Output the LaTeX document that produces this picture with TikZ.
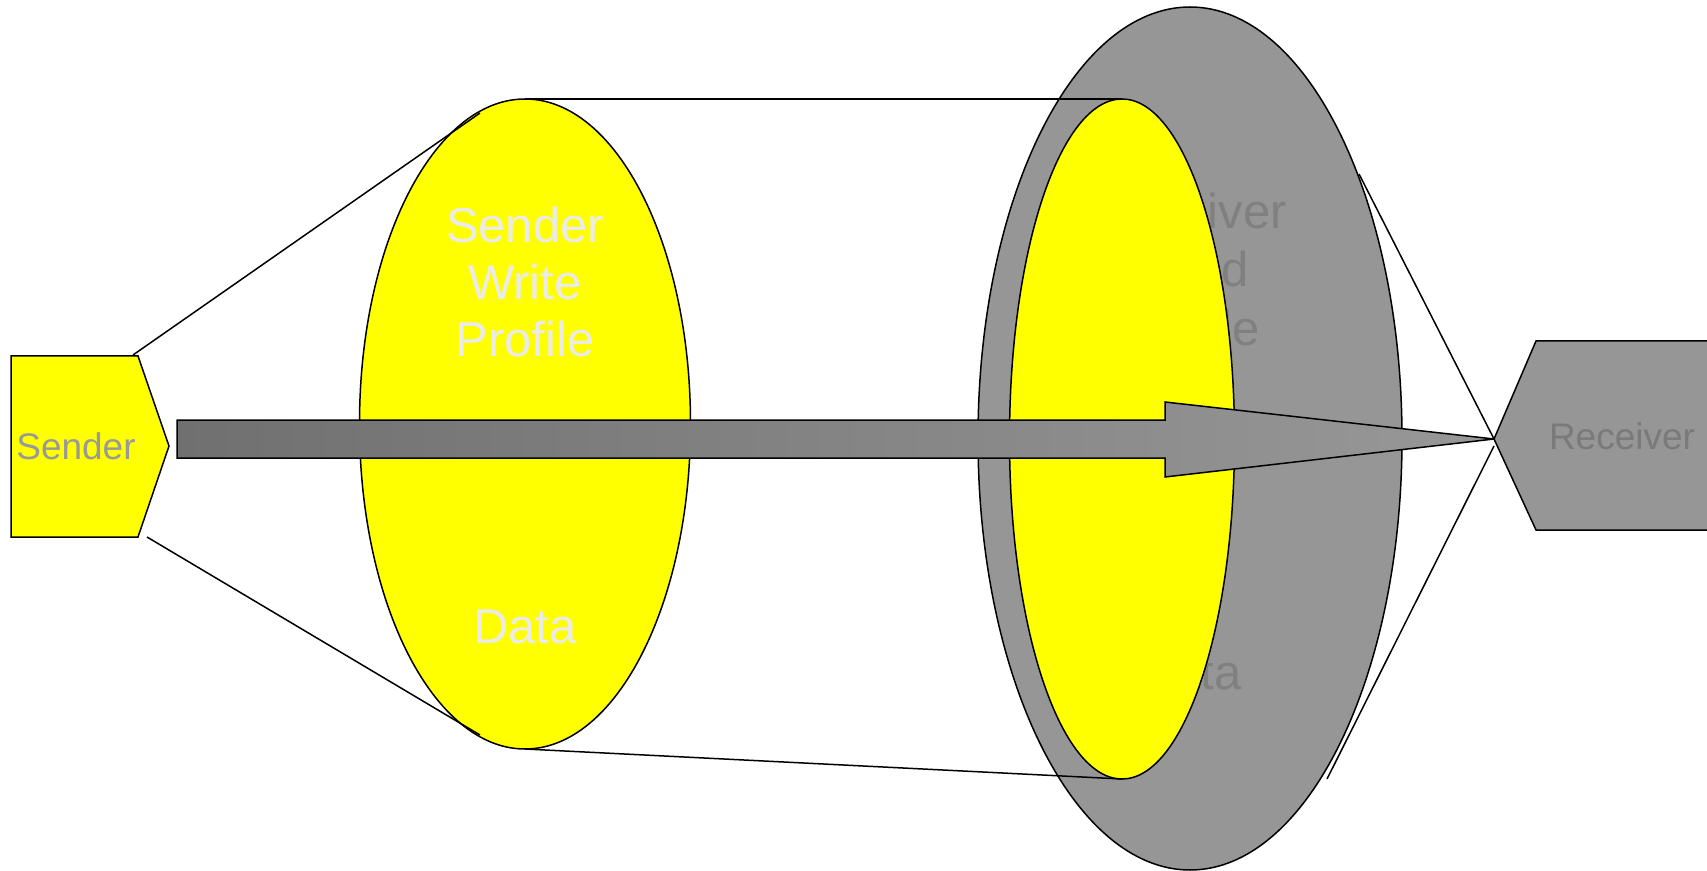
\documentclass[tikz,border=0pt]{standalone}
\usepackage{fontspec}
\setmainfont{Liberation Sans}
\usetikzlibrary{shapes.geometric}
\definecolor{yel}{HTML}{FFFF00}
\definecolor{gfill}{HTML}{969696}
\definecolor{gtext}{HTML}{808080}
\definecolor{ltext}{HTML}{EBEBEB}
\definecolor{stext}{HTML}{999999}
\definecolor{rtext}{HTML}{7A7A7A}
\definecolor{arrL}{HTML}{707070}
\definecolor{arrR}{HTML}{989898}
\tikzset{
  ln/.style={draw=black, line width=0.75pt},
  ell/.style={ellipse, draw=black, line width=0.75pt, inner sep=0pt, outer sep=0pt},
  bigtxt/.style={font=\fontsize{24.5}{28.5}\selectfont, align=center, inner sep=0pt},
  smalltxt/.style={font=\fontsize{18.5}{22}\selectfont, inner sep=0pt},
}
\begin{document}
\begin{tikzpicture}[x=0.5pt, y=-0.5pt]
\clip (0,0) rectangle (1707,871);
\fill[white] (0,0) rectangle (1707,871);

% Sender pentagon
\coordinate (sTL) at (11,356);
\coordinate (sTR) at (138,356);
\coordinate (sTip) at (169,446);
\coordinate (sBR) at (138,537);
\coordinate (sBL) at (11,537);
\draw[ln, fill=yel] (sTL) -- (sTR) -- (sTip) -- (sBR) -- (sBL) -- cycle;
\node[smalltxt, text=stext] (sender) at (76,446) {Sender};

% Sender write profile ellipse
\node[ell, fill=yel, minimum width=165.5pt, minimum height=325pt] (e1) at (525,424) {};
\node[bigtxt, text=ltext] (e1t) at (525,282) {Sender\\Write\\Profile};
\node[bigtxt, text=ltext] (e1d) at (525,627) {Data};

% lines sender -> ellipse 1
\coordinate (s1) at (133,355);
\coordinate (e1a) at (480,113);
\coordinate (s2) at (147,537);
\coordinate (e1b) at (480,735);
\draw[ln] (s1) -- (e1a);
\draw[ln] (s2) -- (e1b);

% Receiver read profile ellipse
\node[ell, fill=gfill, minimum width=212pt, minimum height=431.5pt] (g) at (1190,438.5) {};
\node[bigtxt, text=gtext, font=\fontsize{24.5}{29.25}\selectfont] (gt) at (1190,269) {Receiver\\Read\\Profile};
\node[bigtxt, text=gtext] (gd) at (1190,673) {Data};
\node[ell, fill=yel, minimum width=112.5pt, minimum height=340pt] (e2) at (1122,439) {};

% cylinder lines
\draw[ln] (e1.north) -- (e2.north);
\draw[ln] (e1.south) -- (e2.south);

% big arrow
\coordinate (aL1) at (177,420);
\coordinate (aL2) at (177,458);
\coordinate (rp) at (1494,439);
\shade[left color=arrL, right color=arrR, draw=black, line width=0.75pt]
  (aL1) -- (1165,420) -- (1165,402) -- (rp) -- (1165,477) -- (1165,458) -- (aL2) -- cycle;

% Receiver hexagon
\coordinate (rTL) at (1536,341);
\coordinate (rBL) at (1536,530);
\fill[gfill] (1720,341) -- (rTL) -- (rp) -- (rBL) -- (1720,530) -- cycle;
\draw[ln] (1720,341) -- (rTL) -- (rp) -- (rBL) -- (1720,530);
\node[smalltxt, text=rtext] (receiver) at (1622,436) {Receiver};

% lines ellipse -> receiver
\coordinate (g1) at (1359,174);
\coordinate (g2) at (1327,779);
\coordinate (rp2) at (1494,446);
\draw[ln] (g1) -- (rp);
\draw[ln] (rp2) -- (g2);
\end{tikzpicture}
\end{document}
